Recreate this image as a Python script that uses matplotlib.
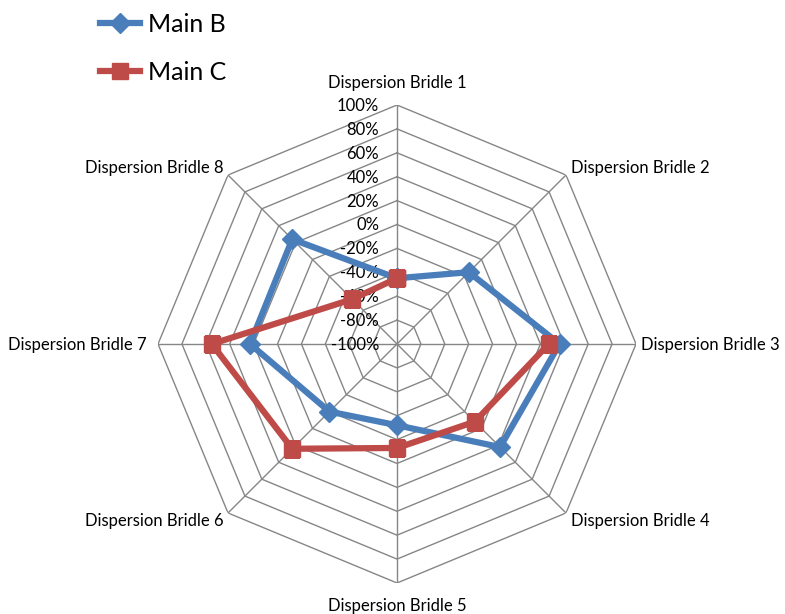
import numpy as np
import matplotlib.pyplot as plt

plt.rcParams['font.family'] = ['Lato', 'DejaVu Sans']

categories = ['Dispersion Bridle 1', 'Dispersion Bridle 2', 'Dispersion Bridle 3',
              'Dispersion Bridle 4', 'Dispersion Bridle 5', 'Dispersion Bridle 6',
              'Dispersion Bridle 7', 'Dispersion Bridle 8']
main_b = [-45, -15, 36, 22, -32, -20, 23, 24]
main_c = [-45, np.nan, 27, -8, -13, 24, 55, -47]
ticks = [-100, -80, -60, -40, -20, 0, 20, 40, 60, 80, 100]

n = len(categories)
angles = np.linspace(0, 2 * np.pi, n, endpoint=False)
closed = np.append(angles, angles[0])

fig = plt.figure(figsize=(7.85, 6.14), dpi=100)
ax = fig.add_axes([0.2013, 0.0505, 0.6089, 0.7785], projection='polar')
ax.set_theta_zero_location('N')
ax.set_theta_direction(-1)
ax.set_ylim(-100, 100)
ax.grid(False)
ax.spines['polar'].set_visible(False)
ax.set_xticks([])
ax.set_yticks([])

grid_col = '#868686'
# octagon rings
for v in ticks[1:]:
    ax.plot(closed, [v] * (n + 1), color=grid_col, lw=1, zorder=1)
# spokes
for a in angles:
    ax.plot([a, a], [-100, 100], color=grid_col, lw=1, zorder=1)

# radial labels
for v in ticks:
    ax.annotate(f'{v}%', xy=(0, v), xytext=(-18, -1), textcoords='offset pixels',
                ha='right', va='center', fontsize=12)

# category labels
offs = [(0, 22, 'center', 'center'), (5, 7, 'left', 'center'), (5, -1, 'left', 'center'),
        (5, -8, 'left', 'center'), (0, -23, 'center', 'center'), (-4, -8, 'right', 'center'),
        (-11, -1, 'right', 'center'), (-4, 7, 'right', 'center')]
for a, lab, (dx, dy, ha, va) in zip(angles, categories, offs):
    ax.annotate(lab, xy=(a, 100), xytext=(dx, dy), textcoords='offset pixels',
                ha=ha, va=va, fontsize=12)

b_vals = np.append(main_b, main_b[0])
c_vals = np.append(main_c, main_c[0])
lb, = ax.plot(closed, b_vals, color='#4A7EBB', lw=4.5, marker='D', ms=10,
              label='Main B', zorder=3, solid_joinstyle='miter')
lc, = ax.plot(closed, c_vals, color='#BE4B48', lw=4.5, marker='s', ms=12,
              label='Main C', zorder=4, solid_joinstyle='miter')

fig.legend(handles=[lb, lc], loc='upper left', bbox_to_anchor=(90 / 785, 1 - 3 / 614),
           frameon=False, fontsize=18, handlelength=1.6, handletextpad=0.3,
           labelspacing=0.98, borderaxespad=0)

fig.savefig('out.png', dpi=100)
